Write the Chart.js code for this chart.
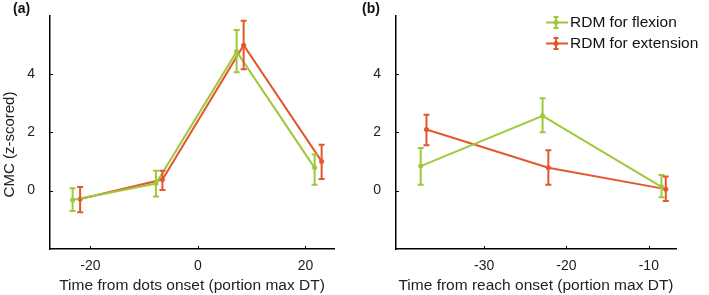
<!DOCTYPE html>
<html>
<head>
<meta charset="utf-8">
<script src="https://cdn.jsdelivr.net/npm/chart.js@4"></script>
<style>
    body { margin: 0; background: #fff; width: 709px; height: 295px; overflow: hidden; position: relative; font-family: "Liberation Sans", Arial, sans-serif; }
    .wrap { position: absolute; top: 0; height: 295px; }
    .tag { position: absolute; top: 0px; font-weight: bold; font-size: 14px; color: #111; }
</style>
</head>
<body>
<div class="wrap" style="left:0;width:360px"><canvas id="ca" width="360" height="295"></canvas></div>
<div class="wrap" style="left:360px;width:349px"><canvas id="cb" width="349" height="295"></canvas></div>
<div class="tag" style="left:13px">(a)</div>
<div class="tag" style="left:362px">(b)</div>
<script>
// Panel (a): time from dots onset
const timeA_flex = [-23.3, -7.8, 7.2, 21.7];
const cmcA_flex = [-0.32, 0.24, 4.76, 0.78];
const lowA_flex = [-0.7, -0.2, 4.05, 0.2];
const highA_flex = [0.08, 0.68, 5.5, 1.24];
const timeA_ext = [-21.9, -6.6, 8.5, 23.0];
const cmcA_ext = [-0.29, 0.38, 4.98, 1.0];
const lowA_ext = [-0.74, 0.02, 4.16, 0.4];
const highA_ext = [0.12, 0.68, 5.82, 1.57];

// Panel (b): time from reach onset
const timeB_flex = [-37.7, -22.9, -8.46];
const cmcB_flex = [0.84, 2.56, 0.13];
const lowB_flex = [0.2, 2.0, -0.23];
const highB_flex = [1.46, 3.16, 0.53];
const timeB_ext = [-37.0, -22.2, -7.94];
const cmcB_ext = [2.09, 0.78, 0.05];
const lowB_ext = [1.55, 0.2, -0.36];
const highB_ext = [2.6, 1.38, 0.48];

const xTicksA = [-20, 0, 20];
const xTicksB = [-30, -20, -10];
const yTicks = [0, 2, 4];
const seriesNames = ['RDM for flexion', 'RDM for extension'];

const GREEN = '#9dc93b';
const ORANGE = '#e4572e';
const FONT = '"Liberation Sans", Arial, sans-serif';

function makeDataset(label, color, xs, ys, lo, hi) {
    return {
        label: label,
        data: xs.map((x, i) => ({ x: x, y: ys[i] })),
        errLow: lo,
        errHigh: hi,
        borderColor: color,
        backgroundColor: color,
        borderWidth: 2,
        pointRadius: 2.5,
        pointBorderWidth: 0,
        tension: 0,
    };
}

// error bars and inward tick marks, drawn through the chart scales
const errorBars = {
    id: 'errorBars',
    afterDatasetsDraw(chart) {
        const ctx = chart.ctx;
        const xs = chart.scales.x, ys = chart.scales.y;
        ctx.save();
        chart.data.datasets.forEach(ds => {
            ctx.strokeStyle = ds.borderColor;
            ctx.lineWidth = 2;
            ds.data.forEach((p, i) => {
                const px = xs.getPixelForValue(p.x);
                const top = ys.getPixelForValue(ds.errHigh[i]);
                const bot = ys.getPixelForValue(ds.errLow[i]);
                ctx.beginPath();
                ctx.moveTo(px, top); ctx.lineTo(px, bot);
                ctx.moveTo(px - 3, top); ctx.lineTo(px + 3, top);
                ctx.moveTo(px - 3, bot); ctx.lineTo(px + 3, bot);
                ctx.stroke();
            });
        });
        ctx.strokeStyle = '#000';
        ctx.lineWidth = 1;
        const area = chart.chartArea;
        xs.ticks.forEach(t => {
            const px = Math.round(xs.getPixelForValue(t.value)) + 0.5;
            ctx.beginPath(); ctx.moveTo(px, area.bottom); ctx.lineTo(px, area.bottom - 3); ctx.stroke();
        });
        ys.ticks.forEach(t => {
            const py = Math.round(ys.getPixelForValue(t.value)) + 0.5;
            ctx.beginPath(); ctx.moveTo(area.left, py); ctx.lineTo(area.left + 3, py); ctx.stroke();
        });
        ctx.restore();
    }
};

// y-axis title, sitting a little below the middle like the original
const yTitle = {
    id: 'yTitle',
    afterDraw(chart, args, opts) {
        if (!opts.text) return;
        const ctx = chart.ctx;
        ctx.save();
        ctx.translate(10, 144.5);
        ctx.rotate(-Math.PI / 2);
        ctx.fillStyle = '#222';
        ctx.font = '15px ' + FONT;
        ctx.textAlign = 'center';
        ctx.textBaseline = 'middle';
        ctx.fillText(opts.text, 0, 0);
        ctx.restore();
    }
};

// legend with an error-bar glyph, only in panel (b)
const barLegend = {
    id: 'barLegend',
    afterDraw(chart, args, opts) {
        if (!opts.show) return;
        const ctx = chart.ctx;
        ctx.save();
        chart.data.datasets.forEach((ds, i) => {
            const y = 22.5 + i * 21;
            const x0 = 186, x1 = 208, xm = 196;
            ctx.strokeStyle = ds.borderColor;
            ctx.fillStyle = ds.borderColor;
            ctx.lineWidth = 2;
            ctx.beginPath();
            ctx.moveTo(x0, y); ctx.lineTo(x1, y);
            ctx.moveTo(xm, y - 5.5); ctx.lineTo(xm, y + 5.5);
            ctx.moveTo(xm - 2.5, y - 5.5); ctx.lineTo(xm + 2.5, y - 5.5);
            ctx.moveTo(xm - 2.5, y + 5.5); ctx.lineTo(xm + 2.5, y + 5.5);
            ctx.stroke();
            ctx.beginPath(); ctx.arc(xm, y, 2.5, 0, Math.PI * 2); ctx.fill();
            ctx.fillStyle = '#111';
            ctx.font = '15.5px ' + FONT;
            ctx.textBaseline = 'middle';
            ctx.fillText(ds.label, 210, y);
        });
        ctx.restore();
    }
};

function makeChart(el, datasets, xMin, xMax, xTicks, xTitle, yWidth, yText, rightPad, showLegend) {
    return new Chart(el, {
        type: 'line',
        data: { datasets: datasets },
        plugins: [errorBars, yTitle, barLegend],
        options: {
            responsive: false,
            animation: false,
            layout: { padding: { top: 7, right: rightPad, left: 0, bottom: 0 } },
            plugins: {
                legend: { display: false },
                tooltip: { enabled: false },
                barLegend: { show: showLegend },
                yTitle: { text: yText },
            },
            scales: {
                x: {
                    type: 'linear',
                    min: xMin,
                    max: xMax,
                    afterBuildTicks: s => { s.ticks = xTicks.map(v => ({ value: v })); },
                    afterFit: s => { s.height = 46; },
                    grid: { display: false },
                    border: { color: '#000', width: 1.5 },
                    ticks: { color: '#222', font: { family: FONT, size: 14 }, padding: 1 },
                    title: { display: true, text: xTitle, color: '#222', font: { family: FONT, size: 15.5 }, padding: { top: 0, bottom: 0 } },
                },
                y: {
                    type: 'linear',
                    min: -2,
                    max: 6,
                    afterBuildTicks: s => { s.ticks = yTicks.map(v => ({ value: v })); },
                    afterFit: s => { s.width = yWidth; },
                    grid: { display: false },
                    border: { color: '#000', width: 1.5 },
                    ticks: { color: '#222', font: { family: FONT, size: 14 }, padding: 7 },
                },
            },
        },
    });
}

document.addEventListener('DOMContentLoaded', function () {
    makeChart(document.getElementById('ca'), [
        makeDataset(seriesNames[0], GREEN, timeA_flex, cmcA_flex, lowA_flex, highA_flex),
        makeDataset(seriesNames[1], ORANGE, timeA_ext, cmcA_ext, lowA_ext, highA_ext),
    ], -27.5, 25.3, xTicksA, 'Time from dots onset (portion max DT)', 50, 'CMC (z-scored)', 26, false);

    makeChart(document.getElementById('cb'), [
        makeDataset(seriesNames[0], GREEN, timeB_flex, cmcB_flex, lowB_flex, highB_flex),
        makeDataset(seriesNames[1], ORANGE, timeB_ext, cmcB_ext, lowB_ext, highB_ext),
    ], -40.7, -6.7, xTicksB, 'Time from reach onset (portion max DT)', 36, '', 33, true);
});
</script>
</body>
</html>
